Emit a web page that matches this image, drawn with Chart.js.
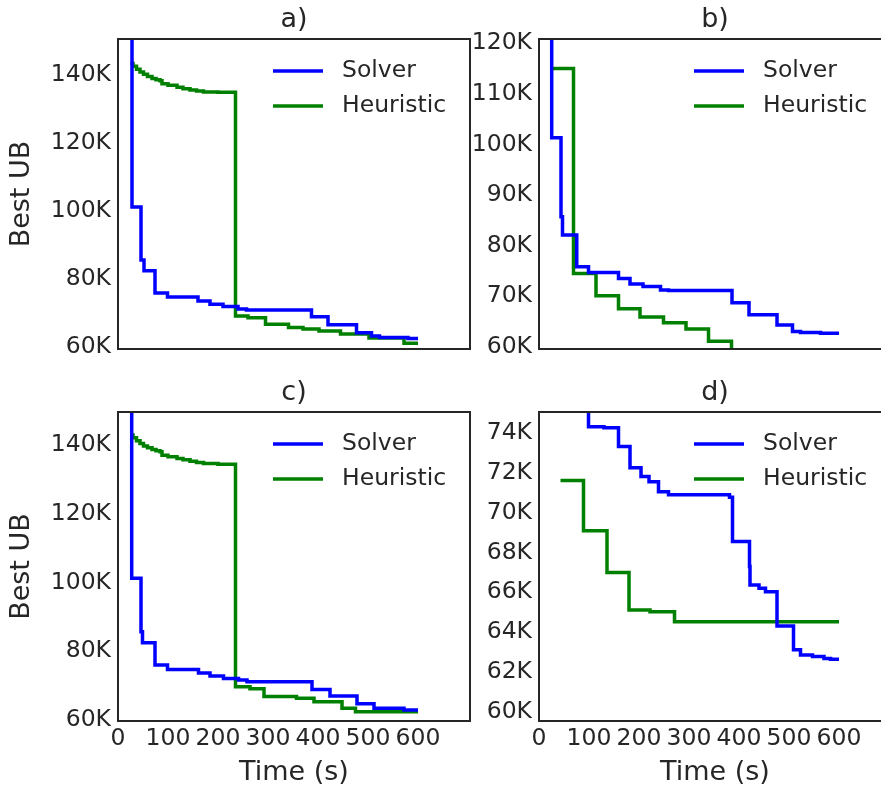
<!DOCTYPE html>
<html>
<head>
<meta charset="utf-8">
<script src="https://cdn.jsdelivr.net/npm/chart.js@4.4.1/dist/chart.umd.min.js"></script>
<style>
  html, body { margin: 0; padding: 0; background: #fff; overflow: hidden; }
  body { width: 881px; height: 791px; position: relative; }
  canvas { position: absolute; }
</style>
</head>
<body>
<canvas id="chartA" width="490" height="380" style="left:0;top:0"></canvas>
<canvas id="chartB" width="440" height="380" style="left:470px;top:0"></canvas>
<canvas id="chartC" width="490" height="431" style="left:0;top:360px"></canvas>
<canvas id="chartD" width="440" height="431" style="left:470px;top:360px"></canvas>
<script>
// tick labels (UB values are in thousands)
const xTickValues = [0, 100, 200, 300, 400, 500, 600];
const yTicksAC = [60, 80, 100, 120, 140];
const yTicksB = [60, 70, 80, 90, 100, 110, 120];
const yTicksD = [60, 62, 64, 66, 68, 70, 72, 74];

// a)
const aSolverTime = [27, 28, 46, 52, 74, 99, 160, 184, 210, 240, 257, 387, 420, 477, 507, 523, 580, 600];
const aSolverUB   = [155, 101.2, 85.6, 82.4, 75.9, 74.7, 73.5, 72.6, 71.9, 71.2, 70.9, 68.9, 66.5, 64.2, 63.2, 62.8, 62.5, 62.5];
const aHeurTime = [25, 30, 37, 44, 51, 59, 68, 76, 84, 88, 100, 118, 130, 144, 157, 171, 200, 235, 260, 295, 341, 370, 402, 445, 502, 572, 600];
const aHeurUB   = [143.4, 142.6, 141.7, 140.9, 140.2, 139.6, 139.0, 138.6, 138.3, 137.4, 137.0, 136.4, 136.0, 135.6, 135.3, 135.0, 134.9,
                   69.1, 68.6, 66.7, 65.7, 65.3, 64.7, 63.8, 62.6, 61.1, 61.1];

// b)
const bSolverTime = [25, 25.4, 44, 47, 75.5, 99, 159, 182, 208, 243, 259, 386, 420, 476, 507, 523, 563, 600];
const bSolverUB   = [125, 101.3, 85.7, 82.1, 75.8, 74.7, 73.5, 72.4, 71.9, 71.2, 71.1, 68.7, 66.3, 64.3, 63.0, 62.8, 62.65, 62.65];
const bHeurTime = [23, 69, 114, 159, 202, 249, 294, 339, 385, 600];
const bHeurUB   = [115.0, 74.5, 70.1, 67.5, 65.9, 64.75, 63.5, 61.1, 58.5, 58.5];

// c)
const cSolverTime = [27, 27.4, 46, 49, 74, 99, 161, 184, 211, 241, 258, 388, 424, 478, 512, 572, 600];
const cSolverUB   = [155, 101.2, 85.7, 82.5, 76.0, 74.7, 73.7, 72.8, 72.1, 71.6, 71.1, 68.9, 67.0, 64.7, 63.4, 62.9, 62.9];
const cHeurTime = [25, 30, 37, 44, 51, 59, 68, 76, 84, 88, 100, 118, 130, 144, 157, 171, 200, 235, 264, 292, 357, 392, 448, 475, 600];
const cHeurUB   = [142.9, 142.1, 141.2, 140.4, 139.7, 139.2, 138.7, 138.3, 138.0, 137.0, 136.6, 136.1, 135.7, 135.3, 134.9, 134.6, 134.4,
                   69.7, 69.1, 66.8, 66.3, 65.3, 63.4, 62.4, 62.4];

// d)
const dSolverTime = [97, 99, 130, 159, 182, 204, 220, 239, 259, 381, 387, 421, 422, 440, 453, 476, 509, 523, 547, 570, 583, 600];
const dSolverUB   = [76, 74.33, 74.28, 73.33, 72.27, 71.82, 71.56, 71.06, 70.90, 70.78, 68.55, 67.3, 66.37, 66.20, 66.03, 64.30, 63.10, 62.84, 62.76, 62.66, 62.63, 62.63];
const dHeurTime = [43, 89, 136, 180, 222, 271, 600];
const dHeurUB   = [71.62, 69.10, 66.99, 65.11, 65.02, 64.52, 64.52];

const TEXT = '#262626';
Chart.defaults.font.family = '"DejaVu Sans", sans-serif';
Chart.defaults.color = TEXT;

function toPoints(xs, ys) {
    return xs.map((x, i) => ({ x: x, y: ys[i] }));
}

// frame, panel title and in-plot legend
const framePlugin = {
    id: 'frame',
    afterDatasetsDraw(chart, args, opts) {
        const { ctx, chartArea: a } = chart;
        ctx.save();
        ctx.strokeStyle = TEXT;
        ctx.lineWidth = 2;
        ctx.strokeRect(a.left, a.top, a.width, a.height);

        ctx.fillStyle = TEXT;
        ctx.font = '27px "DejaVu Sans"';
        ctx.textAlign = 'center';
        ctx.textBaseline = 'alphabetic';
        ctx.fillText(opts.title, a.left + 176, a.top - 12.5);

        ctx.font = '23.5px "DejaVu Sans"';
        ctx.textAlign = 'left';
        ctx.textBaseline = 'middle';
        chart.data.datasets.forEach((ds, i) => {
            const y = a.top + 32 + i * 35;
            ctx.strokeStyle = ds.borderColor;
            ctx.lineWidth = 3.5;
            ctx.beginPath();
            ctx.moveTo(a.left + 155, y);
            ctx.lineTo(a.left + 205, y);
            ctx.stroke();
            ctx.fillText(ds.label, a.left + 224, y);
        });
        ctx.restore();
    }
};

function makeChart(id, p) {
    const ctx = document.getElementById(id);
    return new Chart(ctx, {
        type: 'line',
        data: {
            datasets: [
                { label: 'Solver', data: toPoints(p.solverTime, p.solverUB), borderColor: '#0000ff' },
                { label: 'Heuristic', data: toPoints(p.heurTime, p.heurUB), borderColor: '#008000' }
            ]
        },
        options: {
            responsive: false,
            animation: false,
            datasets: {
                line: { borderWidth: 3.5, pointRadius: 0, stepped: true, fill: false, tension: 0 }
            },
            layout: { padding: { top: p.top, right: p.right, left: 0, bottom: 0 } },
            plugins: {
                legend: { display: false },
                title: { display: false },
                tooltip: { enabled: false },
                frame: { title: p.title }
            },
            scales: {
                x: {
                    type: 'linear',
                    min: 0,
                    max: 704,
                    grid: { display: false, drawTicks: false },
                    border: { display: false },
                    afterBuildTicks: s => { s.ticks = xTickValues.map(v => ({ value: v })); },
                    afterFit: s => { s.height = p.xHeight; },
                    ticks: { display: p.showX, padding: 4, font: { size: 23.5 } },
                    title: {
                        display: p.showX,
                        text: 'Time (s)',
                        font: { size: 27 },
                        padding: { top: 0, bottom: 2 }
                    }
                },
                y: {
                    type: 'linear',
                    min: p.yMin,
                    max: p.yMax,
                    grid: { display: false, drawTicks: false },
                    border: { display: false },
                    afterBuildTicks: s => { s.ticks = p.yTicks.map(v => ({ value: v })); },
                    afterFit: s => { s.width = p.yWidth; },
                    ticks: { padding: 7, font: { size: 23.5 }, callback: v => v + 'K' },
                    title: {
                        display: p.showY,
                        text: 'Best UB',
                        font: { size: 27 },
                        padding: { top: 6, bottom: 0 }
                    }
                }
            }
        },
        plugins: [framePlugin]
    });
}

makeChart('chartA', {
    title: 'a)', solverTime: aSolverTime, solverUB: aSolverUB, heurTime: aHeurTime, heurUB: aHeurUB,
    yMin: 59.4, yMax: 150.6, yTicks: yTicksAC, top: 39, right: 20, xHeight: 31, yWidth: 118,
    showX: false, showY: true
});
makeChart('chartB', {
    title: 'b)', solverTime: bSolverTime, solverUB: bSolverUB, heurTime: bHeurTime, heurUB: bHeurUB,
    yMin: 59.55, yMax: 120.85, yTicks: yTicksB, top: 39, right: 19, xHeight: 31, yWidth: 69,
    showX: false, showY: false
});
makeChart('chartC', {
    title: 'c)', solverTime: cSolverTime, solverUB: cSolverUB, heurTime: cHeurTime, heurUB: cHeurUB,
    yMin: 59.7, yMax: 149.6, yTicks: yTicksAC, top: 52, right: 20, xHeight: 70, yWidth: 118,
    showX: true, showY: true
});
makeChart('chartD', {
    title: 'd)', solverTime: dSolverTime, solverUB: dSolverUB, heurTime: dHeurTime, heurUB: dHeurUB,
    yMin: 59.52, yMax: 75.07, yTicks: yTicksD, top: 52, right: 19, xHeight: 70, yWidth: 69,
    showX: true, showY: false
});
</script>
</body>
</html>
